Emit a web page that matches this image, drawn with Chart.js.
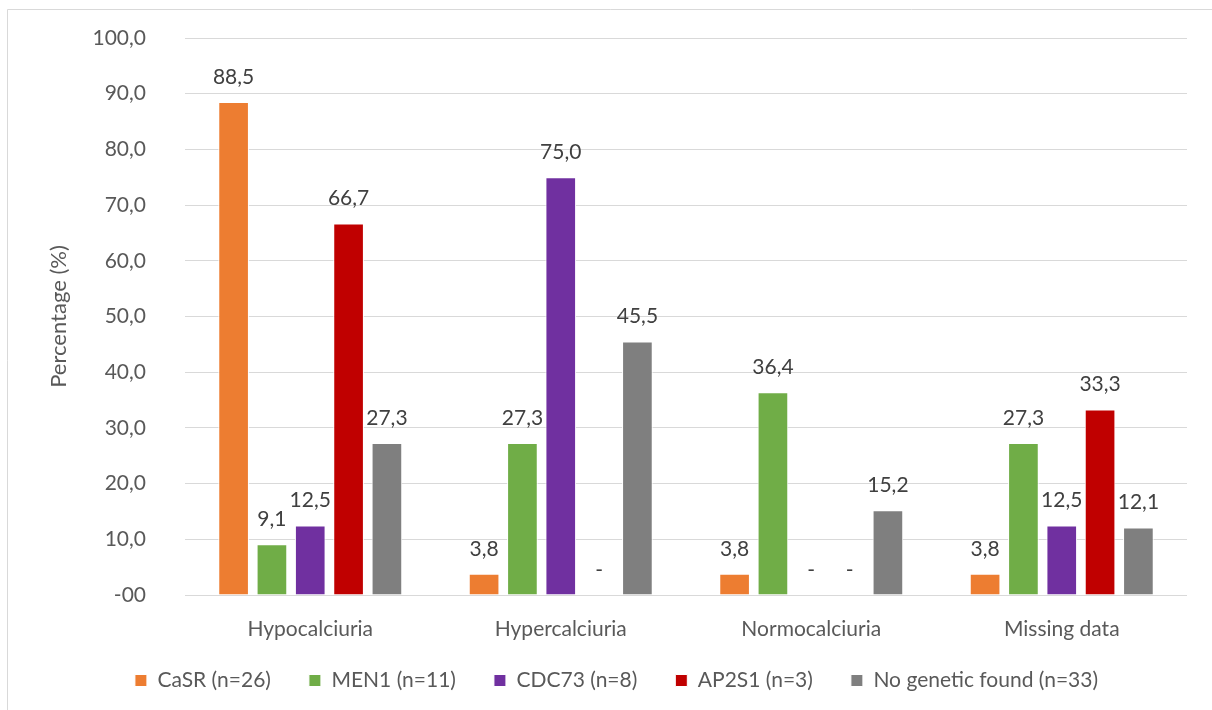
<!DOCTYPE html>
<html>
<head>
<meta charset="utf-8">
<script src="https://cdn.jsdelivr.net/npm/chart.js@4/dist/chart.umd.min.js"></script>
<style>
  html, body { margin: 0; padding: 0; background: #ffffff; }
  #wrap { width: 1212px; height: 710px; position: relative; }
</style>
</head>
<body>
<div id="wrap"><canvas id="chart" width="1212" height="710"></canvas></div>
<script>
// Urinary calcium groups on the x axis
const categories = ['Hypocalciuria', 'Hypercalciuria', 'Normocalciuria', 'Missing data'];

// Percentage per genetic group
const casrValues    = [88.5, 3.8, 3.8, 3.8];
const men1Values    = [9.1, 27.3, 36.4, 27.3];
const cdc73Values   = [12.5, 75.0, 0, 12.5];
const ap2s1Values   = [66.7, 0, 0, 33.3];
const noGeneValues  = [27.3, 45.5, 15.2, 12.1];

const seriesNames = ['CaSR (n=26)', 'MEN1 (n=11)', 'CDC73 (n=8)', 'AP2S1 (n=3)', 'No genetic found (n=33)'];
const yTicks = [0, 10, 20, 30, 40, 50, 60, 70, 80, 90, 100];

const FONT = 'Lato, "Open Sans", sans-serif';
const FONT_SIZE = 21;
const colors = ['#ED7D31', '#70AD47', '#7030A0', '#C00000', '#7F7F7F'];
const seriesValues = [casrValues, men1Values, cdc73Values, ap2s1Values, noGeneValues];

function fmt(v) {
  return v.toFixed(1).replace('.', ',');
}

// Outer frame of the chart area
const framePlugin = {
  id: 'frame',
  beforeDraw(chart) {
    const ctx = chart.ctx;
    ctx.save();
    ctx.fillStyle = '#ffffff';
    ctx.fillRect(0, 0, chart.width, chart.height);
    ctx.strokeStyle = '#d9d9d9';
    ctx.lineWidth = 1;
    ctx.beginPath();
    ctx.moveTo(7.5, chart.height + 2);
    ctx.lineTo(7.5, 9.5);
    ctx.lineTo(chart.width + 2, 9.5);
    ctx.stroke();
    ctx.restore();
  }
};

// Value labels above each bar; zero values are shown as a dash
const valueLabels = {
  id: 'valueLabels',
  afterDatasetsDraw(chart) {
    const ctx = chart.ctx;
    ctx.save();
    ctx.font = FONT_SIZE + 'px ' + FONT;
    ctx.fillStyle = '#404040';
    ctx.textAlign = 'center';
    ctx.textBaseline = 'middle';
    chart.data.datasets.forEach((ds, di) => {
      const meta = chart.getDatasetMeta(di);
      meta.data.forEach((bar, i) => {
        const v = ds.data[i];
        const text = v === 0 ? '-' : fmt(v);
        ctx.fillText(text, bar.x, bar.y - 25);
      });
    });
    ctx.restore();
  }
};

const datasets = seriesNames.map((name, i) => ({
  label: name,
  data: seriesValues[i],
  backgroundColor: colors[i],
  borderColor: '#ffffff',
  borderWidth: 1,
  barPercentage: 0.8,
  categoryPercentage: 0.765
}));

new Chart(document.getElementById('chart'), {
  type: 'bar',
  data: { labels: categories, datasets },
  options: {
    responsive: false,
    animation: false,
    devicePixelRatio: 1,
    layout: { padding: { top: 38, right: 25, bottom: 9, left: 46 } },
    plugins: {
      legend: {
        position: 'bottom',
        labels: {
          boxWidth: 12,
          boxHeight: 12,
          padding: 38,
          color: '#595959',
          font: { family: FONT, size: FONT_SIZE }
        }
      },
      tooltip: { enabled: false }
    },
    scales: {
      x: {
        grid: { display: false },
        border: { display: false },
        ticks: {
          color: '#595959',
          padding: 14,
          font: { family: FONT, size: FONT_SIZE }
        },
        afterFit(scale) {
          scale.height = 37;
          // labels sit partly below this short axis box, so keep them unclipped
          scale._computeLabelArea = () => null;
        }
      },
      y: {
        min: 0,
        max: 100,
        afterBuildTicks(scale) { scale.ticks = yTicks.map(v => ({ value: v })); },
        grid: { color: '#d9d9d9', lineWidth: 1, drawTicks: false },
        border: { display: false },
        ticks: {
          color: '#595959',
          padding: 39,
          font: { family: FONT, size: FONT_SIZE },
          callback: v => (v === 0 ? '-00' : fmt(v))
        },
        title: {
          display: true,
          text: 'Percentage (%)',
          color: '#595959',
          padding: { top: 0, bottom: 0 },
          font: { family: FONT, size: 22 }
        },
        afterFit(scale) {
          scale.width = 139;
          scale.paddingTop = 0;
          scale.paddingBottom = 0;
        }
      }
    }
  },
  plugins: [framePlugin, valueLabels]
});
</script>
</body>
</html>
